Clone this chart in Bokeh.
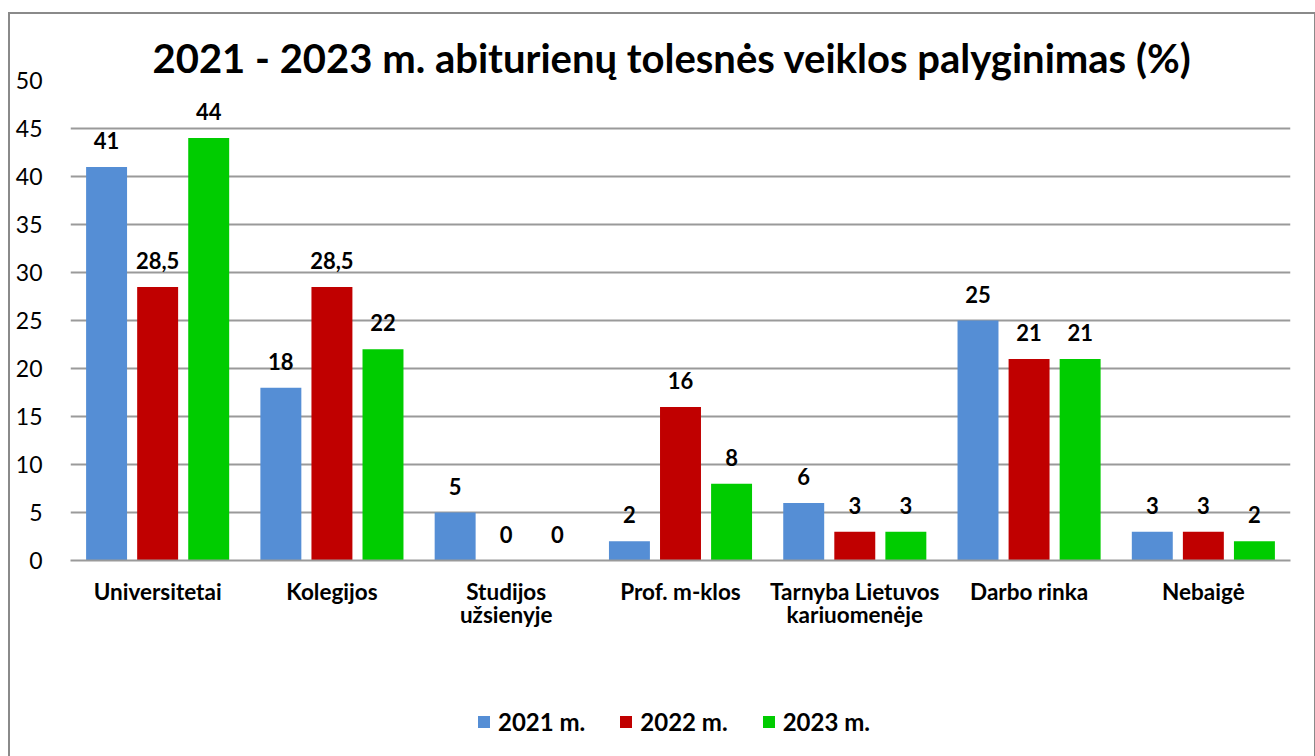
from bokeh.plotting import figure
from bokeh.layouts import column
from bokeh.models import (ColumnDataSource, Range1d, FixedTicker, LabelSet,
                          Legend, LegendItem, Title)
from bokeh.core.properties import value
from bokeh.transform import dodge
from bokeh.embed import file_html
from bokeh.resources import INLINE

categories = ["Universitetai", "Kolegijos", "Studijos\nužsienyje", "Prof. m-klos",
              "Tarnyba Lietuvos\nkariuomenėje", "Darbo rinka", "Nebaigė"]
series_names = ["2021 m.", "2022 m.", "2023 m."]
y2021 = [41, 18, 5, 2, 6, 25, 3]
y2022 = [28.5, 28.5, 0, 16, 3, 21, 3]
y2023 = [44, 22, 0, 8, 3, 21, 2]
y_ticks = [0, 5, 10, 15, 20, 25, 30, 35, 40, 45, 50]
title_text = "2021 - 2023 m. abiturienų tolesnės veiklos palyginimas (%)"

colors = ["#558ED5", "#C00000", "#00CC00"]
FONT = "Lato"

def fmt(v):
    s = ("%g" % v)
    return s.replace(".", ",")

idx = list(range(len(categories)))
src = ColumnDataSource(dict(
    x=idx,
    y2021=y2021, y2022=y2022, y2023=y2023,
    l2021=[fmt(v) for v in y2021],
    l2022=[fmt(v) for v in y2022],
    l2023=[fmt(v) for v in y2023],
))

p = figure(width=1304, height=660, output_backend="svg", toolbar_location=None,
           x_range=Range1d(-0.5, 6.5), y_range=Range1d(0, 50),
           min_border_left=60, min_border_right=24, min_border_top=66,
           min_border_bottom=114)
p.outline_line_color = None
p.background_fill_color = "white"
p.border_fill_color = "white"

offsets = [-0.293, 0.0, 0.293]
width = 0.235
keys = ["y2021", "y2022", "y2023"]
lkeys = ["l2021", "l2022", "l2023"]
for k, lk, off, c in zip(keys, lkeys, offsets, colors):
    p.vbar(x=dodge("x", off), top=k, width=width, source=src,
           fill_color=c, line_color=None)
    labels = LabelSet(x=dodge("x", off), y=k, text=lk, source=src,
                      text_align="center", text_baseline="alphabetic", y_offset=18,
                      text_font=value(FONT), text_font_style="bold",
                      text_font_size="22px", text_color="black")
    p.add_layout(labels)

# axes
p.xaxis.ticker = FixedTicker(ticks=idx)
p.xaxis.major_label_overrides = {i: c for i, c in zip(idx, categories)}
p.xaxis.major_label_text_font = FONT
p.xaxis.major_label_text_font_style = "bold"
p.xaxis.major_label_text_font_size = "22.5px"
p.xaxis.major_label_text_line_height = 0.86
p.xaxis.major_label_text_color = "black"
p.xaxis.major_label_standoff = 11
p.xaxis.major_tick_line_color = None
p.xaxis.minor_tick_line_color = None
p.xaxis.axis_line_color = "#9a9a9a"
p.xaxis.axis_line_width = 2

p.yaxis.ticker = FixedTicker(ticks=y_ticks)
p.yaxis.major_label_text_font = FONT
p.yaxis.major_label_text_font_size = "23px"
p.yaxis.major_label_text_color = "black"
p.yaxis.major_label_standoff = 22
p.yaxis.major_tick_line_color = None
p.yaxis.minor_tick_line_color = None
p.yaxis.axis_line_color = None

p.xgrid.grid_line_color = None
p.ygrid.grid_line_color = "#9a9a9a"
p.ygrid.grid_line_width = 2

# title
p.title = Title(text=title_text, align="left", offset=82, text_font=FONT,
                text_font_style="bold", text_font_size="40px", text_color="black",
                standoff=-2)

# legend in its own strip (swatch renderers are zero-height, invisible bars)
leg = figure(width=1304, height=82, output_backend="svg", toolbar_location=None,
             x_range=Range1d(0, 1), y_range=Range1d(0, 1),
             x_axis_location=None, y_axis_location=None,
             min_border_left=0, min_border_right=0, min_border_top=0, min_border_bottom=0)
leg.grid.visible = False
leg.outline_line_color = None
swatch_src = ColumnDataSource(dict(x=[0.5], top=[0.0]))
leg_renderers = []
for c in colors:
    leg_renderers.append(leg.vbar(x="x", top="top", bottom=0, width=0.001, source=swatch_src,
                                  fill_color=c, line_color=None))

legend = Legend(items=[LegendItem(label=n, renderers=[r]) for n, r in zip(series_names, leg_renderers)],
                orientation="horizontal", location=(406, 20),
                glyph_width=15, glyph_height=15, label_standoff=7, spacing=33,
                padding=0, margin=0, border_line_color=None, background_fill_alpha=0,
                label_text_font=FONT, label_text_font_style="bold",
                label_text_font_size="24px", label_text_color="black")
leg.add_layout(legend, "center")

layout = column(p, leg, spacing=0)
layout.margin = (12, 0, 0, 8)
layout.styles = {"border": "2px solid #8a8a8a"}

open("out.html", "w").write(file_html(layout, INLINE))
